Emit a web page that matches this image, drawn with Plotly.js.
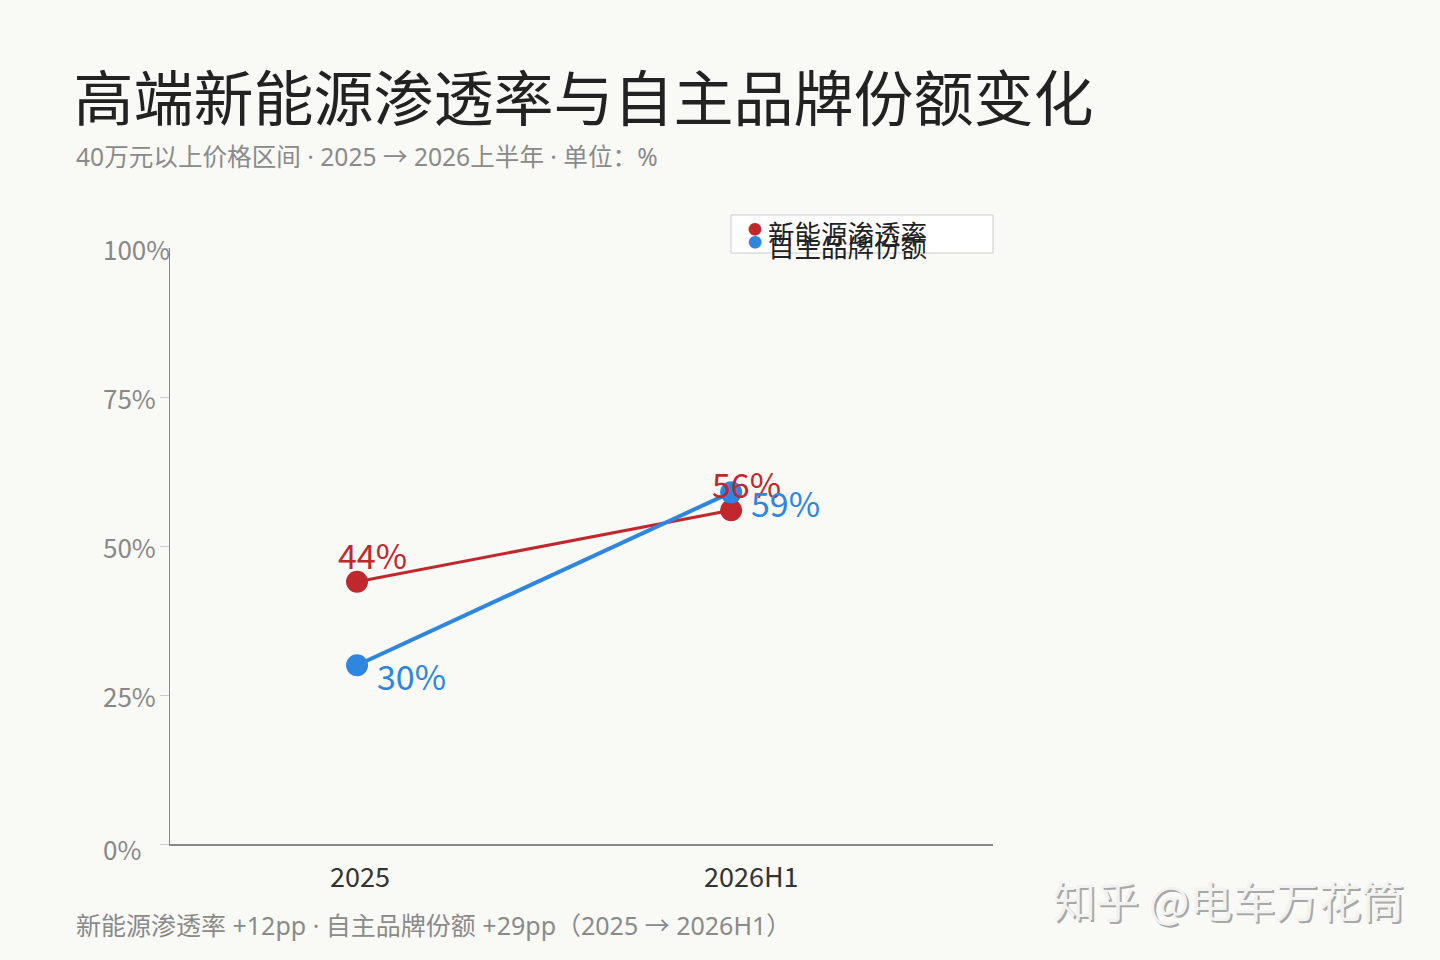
<!DOCTYPE html>
<html>
<head>
<meta charset="utf-8">
<script src="https://cdn.plot.ly/plotly-3.0.1.min.js"></script>
<style>
  html, body { margin: 0; padding: 0; background: #f9f9f6; }
  #chart { width: 1440px; height: 960px; }
</style>
</head>
<body>
<div id="chart"></div>
<script>
// 高端新能源渗透率与自主品牌份额变化 — line chart, two periods

var periods = ['2025', '2026H1'];
var nevShare = [44, 56];      // 新能源渗透率
var brandShare = [30, 59];    // 自主品牌份额
var seriesNames = ['新能源渗透率', '自主品牌份额'];
var yTickVals = [0, 25, 50, 75, 100];
var yTickText = ['0%', '25%', '50%', '75%', '100%'];

var RED = '#c0282d';
var BLUE = '#2e86de';
var FONT = '"Noto Sans CJK SC", "Noto Sans", sans-serif';
var FONT_MIX = '"Noto Sans", "Noto Sans CJK SC", sans-serif';

var xIdx = periods.map(function (p, i) { return i; });

var traces = [
  {
    type: 'scatter', mode: 'lines+markers', name: seriesNames[0],
    x: xIdx, y: nevShare,
    line: { color: RED, width: 3 },
    marker: { color: RED, size: 22 },
    hoverinfo: 'skip'
  },
  {
    type: 'scatter', mode: 'lines+markers', name: seriesNames[1],
    x: xIdx, y: brandShare,
    line: { color: BLUE, width: 4 },
    marker: { color: BLUE, size: 22 },
    hoverinfo: 'skip'
  }
];

var ann = [];

// y tick labels, left aligned like the reference
yTickVals.forEach(function (v, i) {
  ann.push({
    xref: 'paper', yref: 'y', x: -0.0838, y: v, xanchor: 'left', yanchor: 'middle',
    yshift: v === 0 ? -4 : 0,
    text: yTickText[i], showarrow: false,
    font: { family: FONT, size: 26, color: '#888888' }
  });
});

// x tick labels
periods.forEach(function (p, i) {
  ann.push({
    xref: 'x', yref: 'paper', x: i, y: 0, xanchor: 'left', yanchor: 'middle',
    xshift: -29, yshift: -31,
    text: p, showarrow: false,
    font: { family: FONT, size: 27, color: '#333333' }
  });
});

// value labels
nevShare.forEach(function (v, i) {
  ann.push({
    xref: 'x', yref: 'y', x: i, y: v, xanchor: 'left', yanchor: 'middle',
    xshift: -21, yshift: 27,
    text: v + '%', showarrow: false,
    font: { family: FONT, size: 34, color: RED }
  });
});
brandShare.forEach(function (v, i) {
  ann.push({
    xref: 'x', yref: 'y', x: i, y: v, xanchor: 'left', yanchor: 'middle',
    xshift: 18, yshift: -10,
    text: v + '%', showarrow: false,
    font: { family: FONT, size: 34, color: BLUE }
  });
});

// legend (entries overlap in the reference)
var legendX = 0.7108, legendTextX = 0.7236;
ann.push({ xref: 'paper', yref: 'paper', x: legendX, y: 1.0336, text: '●', showarrow: false,
  xanchor: 'center', yanchor: 'middle', font: { family: FONT, size: 14, color: RED } });
ann.push({ xref: 'paper', yref: 'paper', x: legendX, y: 1.0117, text: '●', showarrow: false,
  xanchor: 'center', yanchor: 'middle', font: { family: FONT, size: 14, color: BLUE } });
ann.push({ xref: 'paper', yref: 'paper', x: legendTextX, y: 1.0252, text: seriesNames[0], showarrow: false,
  xanchor: 'left', yanchor: 'middle', font: { family: FONT, size: 26.5, color: '#222222' } });
ann.push({ xref: 'paper', yref: 'paper', x: legendTextX, y: 1.0050, text: seriesNames[1], showarrow: false,
  xanchor: 'left', yanchor: 'middle', font: { family: FONT, size: 26.5, color: '#222222' } });

// subtitle
ann.push({
  xref: 'paper', yref: 'paper', x: -0.1166, y: 1.153, xanchor: 'left', yanchor: 'middle',
  text: '40万元以上价格区间 · 2025 → 2026上半年 · 单位：%', showarrow: false,
  font: { family: FONT_MIX, size: 24.6, color: '#8a8a8a' }
});

// footer note
ann.push({
  xref: 'paper', yref: 'paper', x: -0.1166, y: -0.136, xanchor: 'left', yanchor: 'middle',
  text: '新能源渗透率 +12pp · 自主品牌份额 +29pp（2025 → 2026H1）', showarrow: false,
  font: { family: FONT_MIX, size: 25, color: '#8a8a8a' }
});

// watermark: shadow + face
ann.push({
  xref: 'paper', yref: 'paper', x: 1.0705, y: -0.0915, xanchor: 'left', yanchor: 'middle',
  xshift: 2, yshift: -2,
  text: '知乎 @电车万花筒', showarrow: false,
  font: { family: FONT, size: 43, color: '#a8a8a8' }
});
ann.push({
  xref: 'paper', yref: 'paper', x: 1.0705, y: -0.0915, xanchor: 'left', yanchor: 'middle',
  text: '知乎 @电车万花筒', showarrow: false,
  font: { family: FONT, size: 43, color: '#f2f2f0' }
});

var layout = {
  width: 1440,
  height: 960,
  margin: { l: 170, r: 447, t: 248, b: 116 },
  paper_bgcolor: '#f9f9f6',
  plot_bgcolor: '#f9f9f6',
  showlegend: false,
  title: {
    text: '高端新能源渗透率与自主品牌份额变化',
    x: 0.051, xanchor: 'left', xref: 'container',
    y: 0.896, yanchor: 'middle', yref: 'container',
    font: { family: FONT, size: 60, color: '#222222' }
  },
  xaxis: {
    range: [-0.5, 1.7],
    showgrid: false, zeroline: false,
    showticklabels: false, ticks: '',
    showline: true, linecolor: '#888888', linewidth: 1.5
  },
  yaxis: {
    range: [0, 100],
    tickvals: yTickVals,
    showticklabels: false,
    ticks: 'outside', ticklen: 9, tickcolor: '#cccccc', tickwidth: 1,
    showgrid: false, zeroline: false,
    showline: true, linecolor: '#888888', linewidth: 1.5
  },
  shapes: [
    {
      type: 'rect', xref: 'paper', yref: 'paper',
      x0: 0.6817, x1: 1.0, y0: 0.9916, y1: 1.0554,
      fillcolor: '#ffffff', line: { color: '#cccccc', width: 1 }, layer: 'below'
    }
  ],
  annotations: ann
};

Plotly.newPlot('chart', traces, layout, { displayModeBar: false, staticPlot: true });
</script>
</body>
</html>
